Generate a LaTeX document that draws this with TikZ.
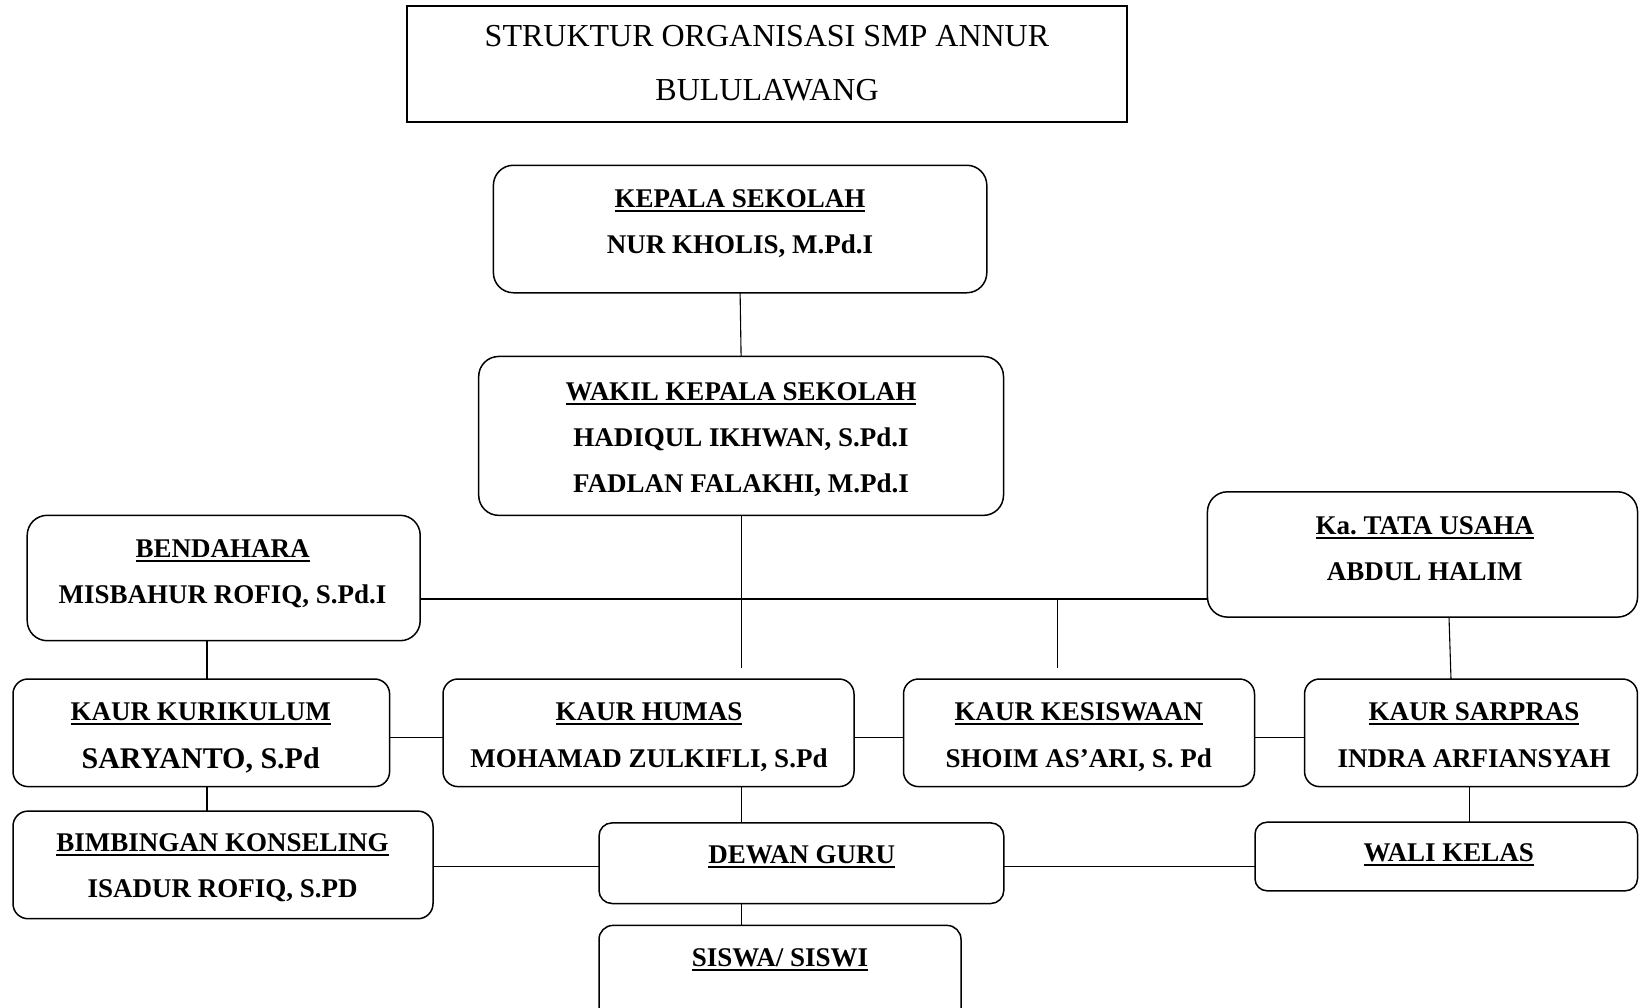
\documentclass[tikz,border=0pt]{standalone}
\usepackage{fontspec}
\setmainfont{Liberation Serif}
\usetikzlibrary{calc}
\frenchspacing
\newsavebox{\ulbox}
\newcommand{\ulined}[1]{\sbox{\ulbox}{#1}\makebox[0pt][l]{\rule[-4.4pt]{\wd\ulbox}{1.9pt}}\usebox{\ulbox}}
\tikzset{
  orgbox/.style={draw, line width=1.5pt, rounded corners=20pt, inner sep=0pt, outer sep=0pt},
  conn/.style={line width=1.1pt},
  lbl/.style={anchor=base, inner sep=0pt, font=\fontsize{27}{31}\selectfont\bfseries},
  lblbig/.style={anchor=base, inner sep=0pt, font=\fontsize{30}{34}\selectfont\bfseries},
  ttl/.style={anchor=base, inner sep=0pt, font=\fontsize{32}{36}\selectfont}
}
\begin{document}
\begin{tikzpicture}[x=1pt,y=-1pt]
\useasboundingbox (0,0) rectangle (1639,1007);
\begin{scope}
\clip (0,0) rectangle (1639,1007);
\fill[white] (0,0) rectangle (1639,1007);

% title
\node[draw, line width=1.4pt, minimum width=720pt, minimum height=116pt, inner sep=0pt] (title) at (767,64) {};
\node[ttl] (t1) at (767,46.6) {STRUKTUR ORGANISASI SMP ANNUR};
\node[ttl] (t2) at (767,100.1) {BULULAWANG};

% boxes
\node[orgbox, minimum width=493.4pt, minimum height=127.5pt] (kep) at (740.1,229) {};
\node[lbl] (kep1) at (740,207.5) {\ulined{KEPALA SEKOLAH}};
\node[lbl] (kep2) at (740,253.5) {NUR KHOLIS, M.Pd.I};

\node[orgbox, minimum width=524.8pt, minimum height=158.9pt] (wak) at (741.1,435.9) {};
\node[lbl] (wak1) at (741,400.9) {\ulined{WAKIL KEPALA SEKOLAH}};
\node[lbl] (wak2) at (741,446.9) {HADIQUL IKHWAN, S.Pd.I};
\node[lbl] (wak3) at (741,492.9) {FADLAN FALAKHI, M.Pd.I};

\node[orgbox, minimum width=393pt, minimum height=125.4pt] (ben) at (223.7,578) {};
\node[lbl] (ben1) at (222.6,557.7) {\ulined{BENDAHARA}};
\node[lbl] (ben2) at (222.6,603.7) {MISBAHUR ROFIQ, S.Pd.I};

\node[orgbox, minimum width=430.1pt, minimum height=125.3pt] (tu) at (1422.5,554.45) {};
\node[lbl] (tu1) at (1424.8,534.3) {\ulined{Ka.\ TATA USAHA}};
\node[lbl] (tu2) at (1424.8,580.3) {ABDUL HALIM};

\node[orgbox, rounded corners=15pt, minimum width=376.6pt, minimum height=107.6pt] (kur) at (201.3,732.8) {};
\node[lbl] (kur1) at (200.7,720.8) {\ulined{KAUR KURIKULUM}};
\node[lblbig] (kur2) at (200.7,768.6) {SARYANTO, S.Pd};

\node[orgbox, rounded corners=15pt, minimum width=411pt, minimum height=107.6pt] (hum) at (648.5,732.8) {};
\node[lbl] (hum1) at (649,720.8) {\ulined{KAUR HUMAS}};
\node[lbl] (hum2) at (649,767.6) {MOHAMAD ZULKIFLI, S.Pd};

\node[orgbox, rounded corners=15pt, minimum width=351pt, minimum height=107.6pt] (kes) at (1079,732.8) {};
\node[lbl] (kes1) at (1078.7,720.8) {\ulined{KAUR KESISWAAN}};
\node[lbl] (kes2) at (1078.7,767.6) {SHOIM AS’ARI, S. Pd};

\node[orgbox, rounded corners=15pt, minimum width=332.9pt, minimum height=107.6pt] (sar) at (1471,732.8) {};
\node[lbl] (sar1) at (1473.9,720.8) {\ulined{KAUR SARPRAS}};
\node[lbl] (sar2) at (1473.9,767.6) {INDRA ARFIANSYAH};

\node[orgbox, rounded corners=15pt, minimum width=420pt, minimum height=107.6pt] (bk) at (223,864.9) {};
\node[lbl] (bk1) at (222.6,851.9) {\ulined{BIMBINGAN KONSELING}};
\node[lbl] (bk2) at (222.6,897.8) {ISADUR ROFIQ, S.PD};

\node[orgbox, rounded corners=13pt, minimum width=404.8pt, minimum height=80.6pt] (dg) at (801.4,863.2) {};
\node[lbl] (dg1) at (801.7,863.7) {\ulined{DEWAN GURU}};

\node[orgbox, rounded corners=12pt, minimum width=382.5pt, minimum height=68.6pt] (wal) at (1446.25,856.5) {};
\node[lbl] (wal1) at (1448.8,861.5) {\ulined{WALI KELAS}};

\node[orgbox, rounded corners=14pt, minimum width=362pt, minimum height=108pt] (sis) at (780,979.4) {};
\node[lbl] (sis1) at (780,966.9) {\ulined{SISWA/ SISWI}};

% helper coordinates
\coordinate (hl) at (0,599);
\coordinate (rowy) at (0,737.1);
\coordinate (dgy) at (0,866.6);
\coordinate (kbx) at (207,0);
\coordinate (sx) at (1469.6,0);
\coordinate (wend) at (741.1,668.2);
\coordinate (kstub) at (1057.6,599);
\coordinate (kend) at (1057.6,668.2);

% connectors
\draw[conn] (kep.south) -- (wak.north);
\draw[line width=1.5pt] (ben.east |- hl) -- (tu.west |- hl);
\draw[conn] (wak.south) -- (wend);
\draw[conn] (kstub) -- (kend);
\draw[conn] ([xshift=26.5pt]tu.south) -- ([xshift=-20pt]sar.north);
\draw[conn] (ben.south -| kbx) -- (kur.north -| kbx);
\draw[conn] (kur.east |- rowy) -- (hum.west |- rowy);
\draw[conn] (hum.east |- rowy) -- (kes.west |- rowy);
\draw[conn] (kes.east |- rowy) -- (sar.west |- rowy);
\draw[conn] (kur.south -| kbx) -- (bk.north -| kbx);
\draw[conn] (hum.south -| wend) -- (dg.north -| wend);
\draw[conn] (bk.east |- dgy) -- (dg.west |- dgy);
\draw[conn] (dg.east |- dgy) -- (wal.west |- dgy);
\draw[conn] (sar.south -| sx) -- (wal.north -| sx);
\draw[conn] (dg.south -| wend) -- (sis.north -| wend);
\end{scope}
\end{tikzpicture}
\end{document}
